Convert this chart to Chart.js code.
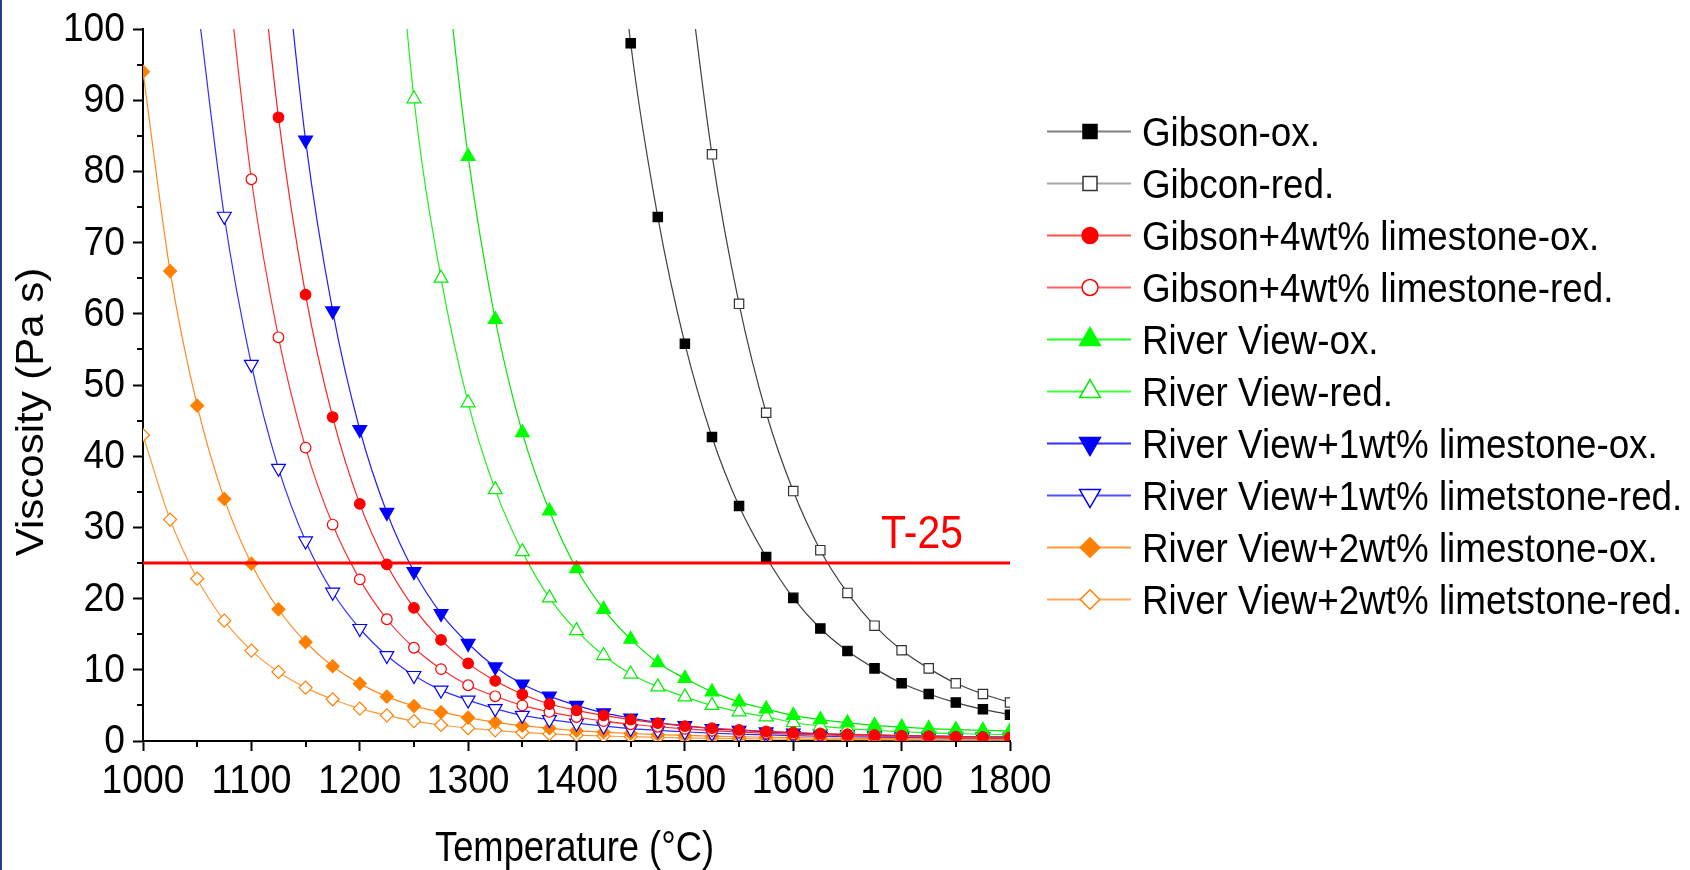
<!DOCTYPE html>
<html><head><meta charset="utf-8">
<script src="https://cdn.jsdelivr.net/npm/chart.js@4.4.1/dist/chart.umd.min.js"></script>
<style>html,body{margin:0;padding:0;background:#fff;overflow:hidden}#wrap{position:relative;width:1690px;height:870px}</style>
</head><body><div id="wrap"><canvas id="c" width="1690" height="870"></canvas></div>
<script>
// Temperature (°C) categories, every 25 °C
const temps = [1000,1025,1050,1075,1100,1125,1150,1175,1200,1225,1250,1275,1300,1325,1350,1375,1400,1425,1450,1475,1500,1525,1550,1575,1600,1625,1650,1675,1700,1725,1750,1775,1800];

// Viscosity (Pa s) per series (null = no point there)
const gibsonOx = [null,null,null,null,null,null,null,null,null,null,null,null,null,null,null,null,null,135,98.0,73.6,55.8,42.7,33.0,25.85,20.1,15.8,12.65,10.2,8.1,6.6,5.4,4.45,3.7];
const gibconRed = [null,null,null,null,null,null,null,null,null,null,null,null,null,null,null,null,null,null,null,null,112,82.4,61.4,46.1,35.1,26.8,20.8,16.2,12.75,10.2,8.1,6.6,5.4];
const gibsonLsOx = [null,null,null,null,123,87.6,62.7,45.5,33.3,24.8,18.7,14.2,10.9,8.45,6.56,5.2,4.3,3.6,3.0,2.5,2.1,1.8,1.55,1.35,1.2,1.05,0.95,0.85,0.75,0.68,0.62,0.56,0.5];
const gibsonLsRed = [null,null,null,112,78.9,56.7,41.2,30.4,22.7,17.1,13.1,10.1,7.83,6.28,5.0,4.08,3.37,2.8,2.35,2.0,1.7,1.45,1.25,1.1,0.95,0.85,0.75,0.67,0.6,0.54,0.48,0.44,0.4];
const riverOx = [null,null,null,null,null,null,null,null,null,null,null,115,82.1,59.2,43.3,32.3,24.2,18.5,14.3,11.0,8.8,6.9,5.5,4.5,3.6,3.0,2.55,2.2,1.95,1.75,1.6,1.5,1.4];
const riverRed = [null,null,null,null,null,null,null,null,null,133,90.2,65.0,47.5,35.3,26.6,20.1,15.5,12.0,9.4,7.6,6.2,5.0,4.1,3.4,2.6,2.1,1.75,1.5,1.3,1.15,1.05,0.95,0.9];
const river1Ox = [null,null,null,null,null,120,84.4,60.4,43.75,32.1,23.8,17.9,13.7,10.4,8.0,6.3,5.0,3.95,3.23,2.6,2.16,1.75,1.5,1.28,1.12,1.0,0.9,0.82,0.75,0.7,0.65,0.6,0.56];
const river1Red = [null,null,104,73.7,52.9,38.3,28.1,20.9,15.8,12.0,9.2,7.15,5.75,4.55,3.6,3.0,2.5,2.1,1.75,1.5,1.3,1.1,0.95,0.85,0.75,0.67,0.6,0.54,0.49,0.45,0.41,0.38,0.35];
const river2Ox = [94.0,66.0,47.1,34.0,24.9,18.5,13.9,10.5,8.06,6.23,4.9,4.05,3.28,2.62,2.15,1.8,1.45,1.25,1.05,0.9,0.78,0.68,0.6,0.53,0.47,0.42,0.38,0.34,0.31,0.28,0.26,0.24,0.22];
const river2Red = [42.95,31.1,22.8,16.9,12.7,9.7,7.5,5.86,4.55,3.6,2.8,2.25,1.8,1.5,1.2,1.0,0.82,0.7,0.6,0.5,0.43,0.37,0.32,0.28,0.25,0.22,0.2,0.18,0.16,0.14,0.13,0.12,0.11];

const seriesNames = ["Gibson-ox.","Gibcon-red.","Gibson+4wt% limestone-ox.","Gibson+4wt% limestone-red.","River View-ox.","River View-red.","River View+1wt% limestone-ox.","River View+1wt% limetstone-red.","River View+2wt% limestone-ox.","River View+2wt% limetstone-red."];

// Reference line T-25
const t25Temps = [1000, 1800];
const t25Values = [25, 25];
const t25Label = "T-25";

// Axis ticks
const xMajorTicks = [1000,1100,1200,1300,1400,1500,1600,1700,1800];
const xMinorTicks = [1050,1150,1250,1350,1450,1550,1650,1750];
const yMajorTicks = [0,10,20,30,40,50,60,70,80,90,100];
const yMinorTicks = [5,15,25,35,45,55,65,75,85,95];
const xTickLabels = ["1000","1100","1200","1300","1400","1500","1600","1700","1800"];
const yTickLabels = ["0","10","20","30","40","50","60","70","80","90","100"];
const xTitle = "Temperature (\u00B0C)";
const yTitle = "Viscosity (Pa s)";

const toXY = vals => temps.map((t,i)=>({x:t,y:vals[i]})).filter(p=>p.y!==null);

const styles = [
  {line:'#404040', leg:'#808080', face:'#000000', edge:'#000000', ps:'rect', r:6.6, rot:0},
  {line:'#404040', leg:'#a8a8a8', face:'#ffffff', edge:'#333333', ps:'rect', r:6.6, rot:0},
  {line:'#ff2020', leg:'#ff5050', face:'#ff0000', edge:'#ff0000', ps:'circle', r:5.3, rot:0},
  {line:'#ff3030', leg:'#ff6060', face:'#ffffff', edge:'#ff0000', ps:'circle', r:5.3, rot:0},
  {line:'#00e600', leg:'#20ff20', face:'#00ff00', edge:'#00ff00', ps:'triangle', r:8, rot:0},
  {line:'#20f020', leg:'#40ff40', face:'#ffffff', edge:'#00ee00', ps:'triangle', r:8, rot:0},
  {line:'#2020ff', leg:'#3030ff', face:'#0000ff', edge:'#0000ff', ps:'triangle', r:8, rot:180},
  {line:'#3030ff', leg:'#5050ff', face:'#ffffff', edge:'#0000ff', ps:'triangle', r:8, rot:180},
  {line:'#ff8a20', leg:'#ff9a40', face:'#ff8000', edge:'#ff8000', ps:'rectRot', r:6.5, rot:0},
  {line:'#ff9a40', leg:'#ffaa60', face:'#ffffff', edge:'#ff8000', ps:'rectRot', r:6.5, rot:0}
];
const seriesValues = [gibsonOx,gibconRed,gibsonLsOx,gibsonLsRed,riverOx,riverRed,river1Ox,river1Red,river2Ox,river2Red];

const datasets = seriesValues.map((vals,i)=>({
  label: seriesNames[i],
  data: toXY(vals),
  borderColor: styles[i].line,
  borderWidth: 1.2,
  backgroundColor: styles[i].face,
  pointStyle: styles[i].ps,
  pointRotation: styles[i].rot,
  pointRadius: styles[i].r,
  pointBackgroundColor: styles[i].face,
  pointBorderColor: styles[i].edge,
  pointBorderWidth: 1.2,
  cubicInterpolationMode: 'monotone',
  legendLine: styles[i].leg
}));
datasets.push({
  label: t25Label, isRef: true,
  data: t25Temps.map((t,i)=>({x:t,y:t25Values[i]})),
  borderColor:'#ff0000', borderWidth:3, pointRadius:0, order: -1
});

function scaledText(ctx, text, x, y, size, sx, align, color){
  ctx.save();
  ctx.translate(x, y);
  ctx.scale(sx, 1);
  ctx.fillStyle = color; ctx.font = size + 'px "Liberation Sans"';
  ctx.textAlign = align; ctx.textBaseline = 'alphabetic';
  ctx.fillText(text, 0, 0);
  ctx.restore();
}

const customPlugin = {
  id:'custom',
  afterDraw(chart){
    const ctx = chart.ctx, xs = chart.scales.x, ys = chart.scales.y, ca = chart.chartArea;
    ctx.save();
    // left page border
    ctx.fillStyle = '#2a3f8c';
    ctx.fillRect(0,0,2,chart.height);
    // minor ticks
    ctx.strokeStyle = '#000'; ctx.lineWidth = 2;
    xMinorTicks.forEach(v=>{const px = Math.round(xs.getPixelForValue(v)); ctx.beginPath(); ctx.moveTo(px, ca.bottom); ctx.lineTo(px, ca.bottom+6); ctx.stroke();});
    yMinorTicks.forEach(v=>{const py = Math.round(ys.getPixelForValue(v)); ctx.beginPath(); ctx.moveTo(ca.left, py); ctx.lineTo(ca.left-6, py); ctx.stroke();});
    // tick labels
    xMajorTicks.forEach((v,i)=>scaledText(ctx, xTickLabels[i], xs.getPixelForValue(v), ca.bottom + 52, 40, 0.93, 'center', '#000'));
    yMajorTicks.forEach((v,i)=>scaledText(ctx, yTickLabels[i], ca.left - 18, ys.getPixelForValue(v) + 12, 40, 0.93, 'right', '#000'));
    // T-25 label
    scaledText(ctx, t25Label, xs.getPixelForValue(1681), ys.getPixelForValue(t25Values[0]) - 15, 46, 0.89, 'left', '#ff0000');
    // x title
    scaledText(ctx, xTitle, (ca.left+ca.right)/2 - 2, 861, 42, 0.865, 'center', '#000');
    // y title
    ctx.save();
    ctx.translate(43, 412);
    ctx.rotate(-Math.PI/2);
    ctx.scale(1,0.93);
    ctx.fillStyle='#000'; ctx.font='42px "Liberation Sans"'; ctx.textAlign='center'; ctx.textBaseline='alphabetic';
    ctx.fillText(yTitle,0,0);
    ctx.restore();
    // legend
    let row = 0;
    chart.data.datasets.forEach(ds=>{
      if (ds.isRef) return;
      const y = 131.5 + 52*row;
      ctx.strokeStyle = ds.legendLine; ctx.lineWidth = 2;
      ctx.beginPath(); ctx.moveTo(1047,y); ctx.lineTo(1131,y); ctx.stroke();
      ctx.fillStyle = ds.pointBackgroundColor; ctx.strokeStyle = ds.pointBorderColor; ctx.lineWidth = 1.5;
      Chart.helpers.drawPoint(ctx, {pointStyle: ds.pointStyle, radius: ds.pointRadius*1.5, rotation: ds.pointRotation, borderWidth: 1.5}, 1090, y);
      scaledText(ctx, ds.label, 1142, y+14, 40, 0.92, 'left', '#000');
      row++;
    });
    ctx.restore();
  }
};

new Chart(document.getElementById('c'), {
  type:'line',
  data:{datasets},
  options:{
    responsive:false, animation:false, devicePixelRatio:1,
    layout:{padding:{top:29,right:680,left:0,bottom:0}},
    plugins:{legend:{display:false}, tooltip:{enabled:false}},
    scales:{
      x:{type:'linear', min:1000, max:1800,
        afterBuildTicks: s=>{ s.ticks = xMajorTicks.map(v=>({value:v})); },
        ticks:{display:false, autoSkip:false},
        grid:{display:true, drawOnChartArea:false, drawTicks:true, tickLength:10, tickWidth:2, tickColor:'#000'},
        border:{display:true, color:'#000', width:2},
        afterFit: s=>{ s.height = 129; }
      },
      y:{type:'linear', min:0, max:100,
        afterBuildTicks: s=>{ s.ticks = yMajorTicks.map(v=>({value:v})); },
        ticks:{display:false, autoSkip:false},
        grid:{display:true, drawOnChartArea:false, drawTicks:true, tickLength:10, tickWidth:2, tickColor:'#000'},
        border:{display:true, color:'#000', width:2},
        afterFit: s=>{ s.width = 143; }
      }
    }
  },
  plugins:[customPlugin]
});
</script></body></html>
